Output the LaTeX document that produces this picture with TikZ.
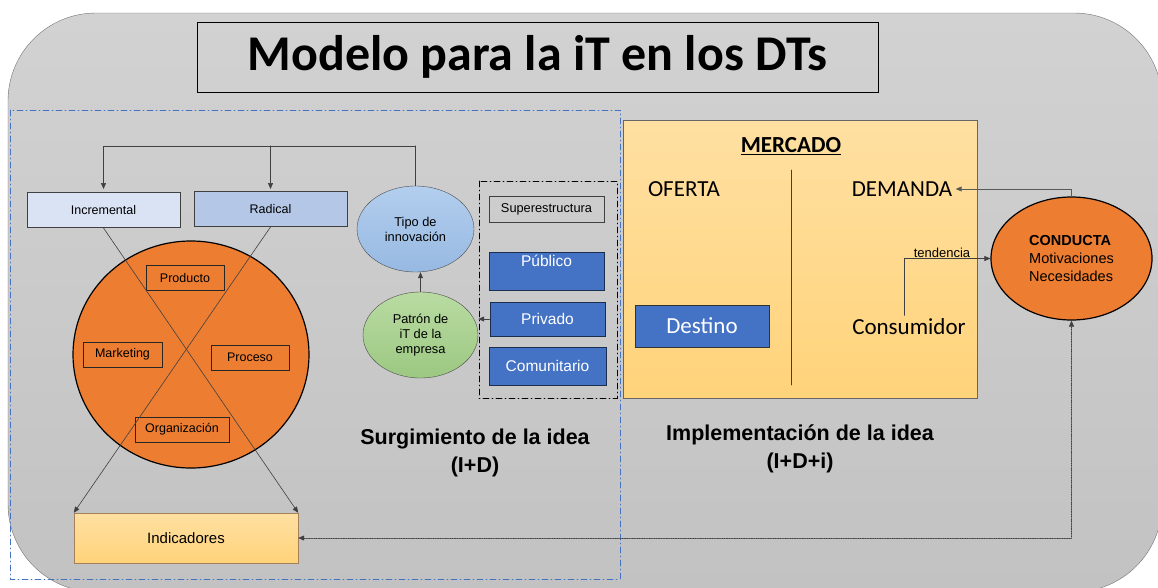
\documentclass[tikz,border=0pt]{standalone}
\usepackage{fontspec}
\setmainfont{Liberation Sans}
\newfontfamily\calibri{Carlito}
\usepackage{tikz}
\usetikzlibrary{arrows.meta, shapes.geometric}
\definecolor{bgTop}{HTML}{D2D2D2}
\definecolor{bgBot}{HTML}{C2C2C2}
\definecolor{accOrange}{HTML}{ED7D31}
\definecolor{accBlue}{HTML}{4472C4}
\definecolor{paleBlue}{HTML}{DAE3F3}
\definecolor{midBlue}{HTML}{B4C7E7}
\definecolor{skyTop}{HTML}{B3CEEE}
\definecolor{skyBot}{HTML}{97B9E2}
\definecolor{leafTop}{HTML}{B9DBA2}
\definecolor{leafBot}{HTML}{9CC882}
\definecolor{sandTop}{HTML}{FFE0A2}
\definecolor{sandBot}{HTML}{FFD37A}
\definecolor{lineGray}{HTML}{404040}
\tikzset{
  arr/.style={-{Triangle[length=6pt,width=5pt]}, lineGray, line width=0.6pt},
  kindbox/.style={draw=lineGray, line width=1pt, minimum width=153pt, minimum height=35pt, font=\fontsize{12.5}{15}\selectfont},
  partbox/.style={draw=black!85, line width=1pt, fill=accOrange, minimum width=#1, minimum height=25pt, inner sep=1pt, font=\fontsize{12.5}{15}\selectfont},
  sectorbox/.style={draw=black!60!accBlue, line width=1pt, fill=accBlue, text=white, minimum width=115pt, font=\fontsize{15.5}{18}\selectfont},
  oval/.style={ellipse, draw=gray!60!black, inner sep=0pt, align=center, font=\fontsize{12.8}{15}\selectfont},
  calword/.style={font=\calibri\fontsize{23}{26}\selectfont},
  sand/.style={draw=gray!80!black, top color=sandTop, bottom color=sandBot},
  headline/.style={font=\bfseries\fontsize{21.5}{28}\selectfont, align=center}
}

\begin{document}
\begin{tikzpicture}[x=1pt, y=-1pt, line cap=round]
  \useasboundingbox (0,0) rectangle (1158,587);

  \shade[top color=bgTop, bottom color=bgBot, draw=gray!90!black, rounded corners=88pt] (8,13) rectangle (1162,592);

  \node[draw=black, line width=1pt, minimum width=681pt, minimum height=70pt] (titulo) at (537.5,57)
    {\calibri\bfseries\fontsize{50}{60}\selectfont Modelo para la iT en los DTs};

  \draw[accBlue, line width=0.8pt, dash pattern=on 6pt off 3pt on 1pt off 3pt] (10,110) rectangle (620,579);
  \draw[black, line width=0.8pt, dash pattern=on 6pt off 3pt on 1pt off 3pt] (479,181) rectangle (617,398);

  % surgimiento de la idea
  \node[ellipse, draw=black, line width=1.2pt, fill=accOrange, minimum width=236pt, minimum height=227pt] (rueda) at (191,354.5) {};
  \node[partbox=78pt] (producto) at (185,278) {Producto};
  \node[partbox=79pt] (marketing) at (122.5,354.5) {Marketing};
  \node[partbox=78pt] (proceso) at (250,357.5) {Proceso};
  \node[partbox=94pt] (organizacion) at (182,429.5) {Organización};

  \node[kindbox, fill=paleBlue] (incremental) at (103.5,210) {Incremental};
  \node[kindbox, fill=midBlue] (radical) at (270.5,209) {Radical};

  \node[sand, draw=brown!60!gray, minimum width=224pt, minimum height=50pt, font=\fontsize{15}{18}\selectfont] (indicadores) at (186,538) {Indicadores};

  \draw[arr] (incremental.south) -- (indicadores.north east);
  \draw[arr] (radical.south) -- (indicadores.north west);

  \node[oval, top color=skyTop, bottom color=skyBot, minimum width=117pt, minimum height=86pt] (tipo) at (415.5,229) {Tipo de\\innovación};
  \node[oval, top color=leafTop, bottom color=leafBot, minimum width=115pt, minimum height=86pt] (patron) at (420.5,335) {Patrón de\\iT de la\\empresa};

  \draw[lineGray, line width=0.6pt] (tipo.north) -- ++(0,-40) coordinate (ramal);
  \draw[arr, shorten >=3pt] (ramal) -| (incremental.north);
  \draw[arr, shorten >=2pt] (ramal -| radical.north) -- (radical.north);
  \draw[arr] (patron.north) -- (patron.north |- tipo.south);

  \node[draw=lineGray, line width=1pt, minimum width=115pt, minimum height=26pt, font=\fontsize{12.8}{15}\selectfont] (superestructura) at (546.5,209) {Superestructura};
  \node[sectorbox, inner ysep=3pt, text height=11pt, text depth=21pt] (publico) at (546.5,271) {Público};
  \node[sectorbox, minimum height=34pt] (privado) at (547.5,319) {Privado};
  \node[sectorbox, minimum width=117pt, minimum height=38pt] (comunitario) at (547.5,366) {Comunitario};
  \draw[arr] (privado.west) -- (privado.west -| patron.east);

  \node[headline] (surgimiento) at (475,453) {Surgimiento de la idea\\(I+D)};

  % implementacion de la idea
  \node[sand, anchor=north west, minimum width=354pt, minimum height=278pt] (mercado) at (623,120) {};
  \draw[lineGray, line width=0.8pt] (791,170) -- (791,385);
  \node[calword, font=\calibri\bfseries\fontsize{23}{26}\selectfont] (mercadoT) at (791,146) {\underline{MERCADO}};
  \node[calword] (oferta) at (684,189) {OFERTA};
  \node[calword] (demanda) at (902,189) {DEMANDA};
  \node[calword, draw=black!80, line width=1pt, fill=accBlue, text=white, minimum width=134pt, minimum height=42pt] (destino) at (702,326) {Destino};
  \node[calword] (consumidor) at (909,327) {Consumidor};

  \node[ellipse, draw=black, line width=1.2pt, fill=accOrange, minimum width=161pt, minimum height=123pt, align=left, font=\fontsize{14.5}{18}\selectfont] (conducta) at (1071.5,258.5) {\textbf{CONDUCTA}\\Motivaciones\\Necesidades};

  \draw[arr, gray!70!black] (conducta.north) |- (demanda.east);
  \draw[arr] ([xshift=-5pt]consumidor.north) |- (conducta.west) node[pos=0.72, above, inner sep=1pt, text=black, font=\fontsize{13}{15}\selectfont] {tendencia};
  \draw[{Triangle[length=6pt,width=5pt]}-{Triangle[length=6pt,width=5pt]}, gray!50!black, line width=0.7pt, densely dotted] (indicadores.east) -| (conducta.south);

  \node[headline] (implementacion) at (800,448.5) {Implementación de la idea\\(I+D+i)};
\end{tikzpicture}
\end{document}
